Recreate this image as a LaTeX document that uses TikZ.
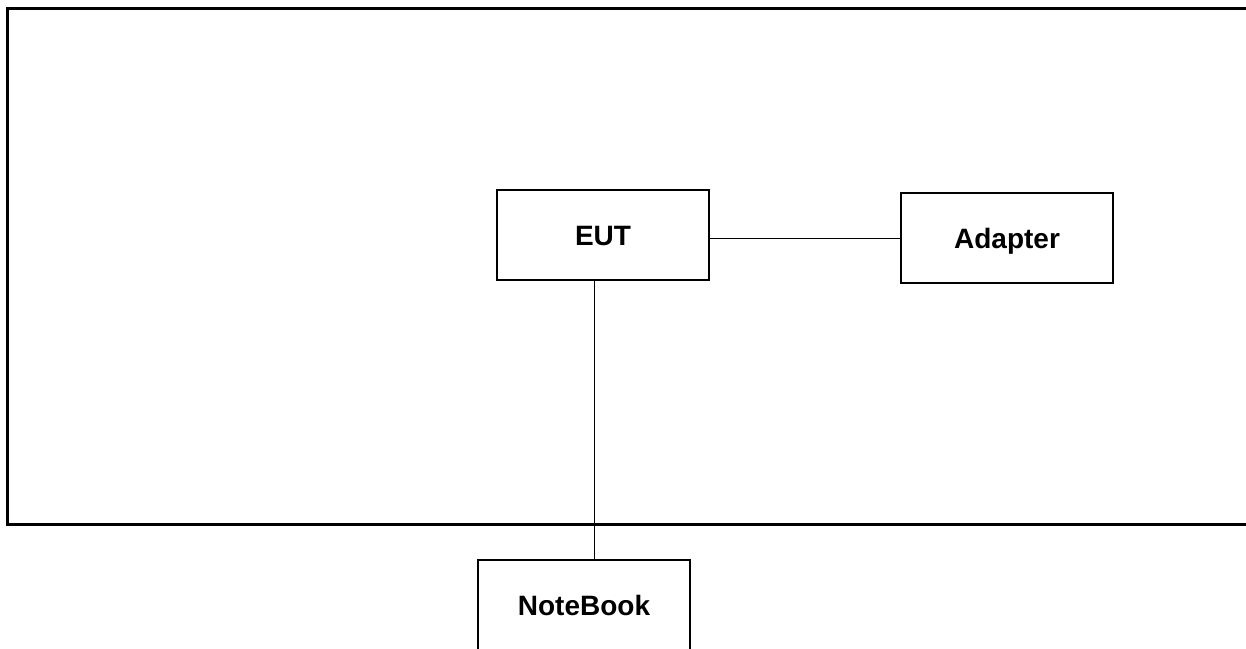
\documentclass[tikz,border=0pt]{standalone}
\usepackage{fontspec}
\setmainfont{Liberation Sans}
\usepackage{tikz}
\usetikzlibrary{positioning,calc}

\begin{document}
\begin{tikzpicture}[
x=0.5pt, y=-0.5pt,
frame/.style={draw=black, line width=1.5pt},
unitbox/.style={draw=black, line width=1.2pt, fill=white, minimum width=106pt,
minimum height=45pt, text height=10pt, text depth=0pt,
font=\fontsize{14}{16}\selectfont\bfseries},
wire/.style={draw=black, line width=0.5pt}
]

\useasboundingbox (0,0) rectangle (1246,648);
\clip (0,0) rectangle (1246,648);
\fill[white] (0,0) rectangle (1246,648);

% test area
\draw[frame] (7,8) rectangle (1270,524);

\node[unitbox] (eut) at (603,235) {EUT};
\node[unitbox] (adapter) at (1007,238) {Adapter};
\node[unitbox] (notebook) at (584,605) {NoteBook};

\draw[wire] (eut.east |- adapter.west) -- (adapter.west);
\draw[wire] ([xshift=-4.5pt]eut.south) -- ([xshift=5pt]notebook.north);

\end{tikzpicture}
\end{document}
